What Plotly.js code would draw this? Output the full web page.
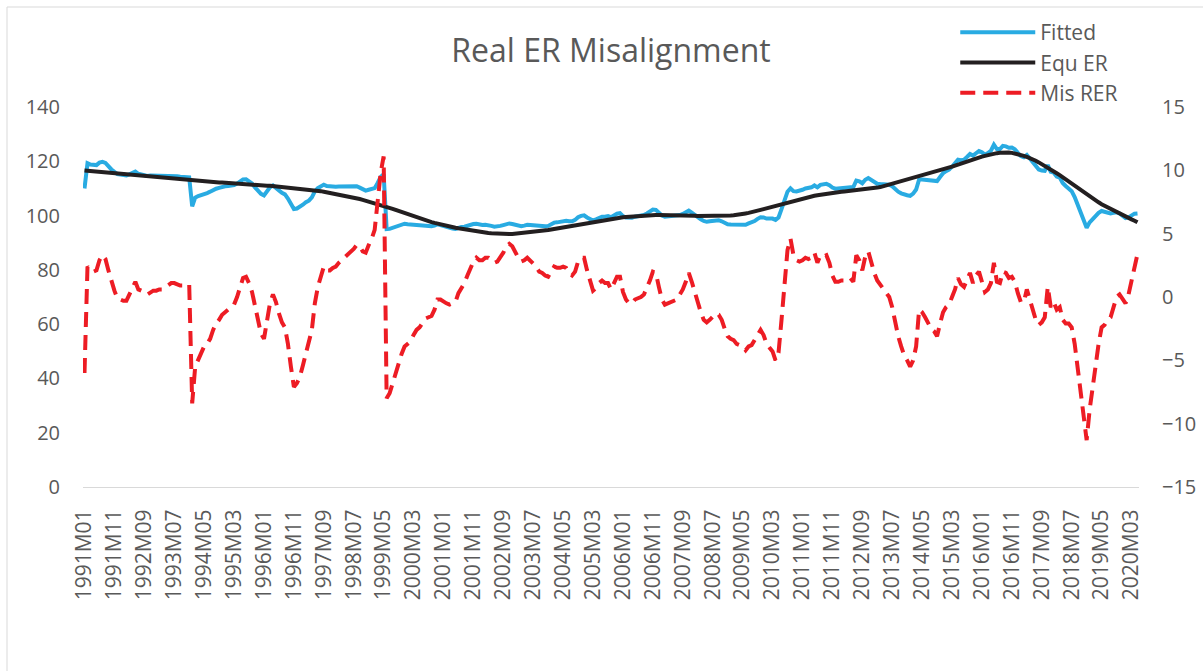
<!DOCTYPE html>
<html>
<head>
<meta charset="utf-8">
<script src="https://cdn.plot.ly/plotly-3.0.1.min.js"></script>
<style>
  html, body { margin: 0; padding: 0; background: #ffffff; }
  #chart { width: 1203px; height: 671px; }
</style>
</head>
<body>
<div id="chart"></div>
<script>
// ---------------- DATA ----------------
const startYear = 1991;          // first month: 1991M01
const monthCount = 353;          // 1991M01 .. 2020M05

const tickLabels = ["1991M01","1991M11","1992M09","1993M07","1994M05","1995M03","1996M01","1996M11",
  "1997M09","1998M07","1999M05","2000M03","2001M01","2001M11","2002M09","2003M07","2004M05","2005M03",
  "2006M01","2006M11","2007M09","2008M07","2009M05","2010M03","2011M01","2011M11","2012M09","2013M07",
  "2014M05","2015M03","2016M01","2016M11","2017M09","2018M07","2019M05","2020M03"];

const fitted = [
110.0,119.3,118.8,118.6,118.6,119.5,119.8,119.4,118.1,117.0,
116.1,115.3,115.1,114.9,114.8,115.2,115.7,116.2,115.4,115.2,
115.0,114.6,114.8,114.8,114.7,114.7,114.6,114.7,114.7,114.8,
114.7,114.5,114.3,114.2,114.2,114.1,103.4,106.6,107.2,107.7,
108.2,108.3,108.8,109.5,109.9,110.2,110.6,110.8,110.9,110.9,
111.2,111.8,112.6,113.3,113.4,112.7,111.8,110.4,109.0,108.0,
107.4,109.0,110.4,111.1,110.4,109.3,108.4,107.8,106.3,104.2,
102.4,102.6,103.1,104.0,104.9,105.5,106.7,108.9,110.1,110.7,
111.4,110.9,110.7,110.7,110.6,110.7,110.7,110.7,110.7,110.9,
110.8,110.8,110.3,109.6,109.2,109.5,109.7,110.1,112.0,114.2,
115.2,95.0,95.1,95.5,96.0,96.5,96.7,97.0,96.8,96.7,
96.8,96.8,96.6,96.6,96.5,96.3,96.1,96.3,96.8,96.5,
96.1,95.7,95.4,95.2,95.1,95.6,95.8,95.9,96.3,96.7,
96.9,97.0,96.7,96.5,96.6,96.5,96.2,95.9,95.9,96.2,
96.5,96.9,97.1,96.9,96.6,96.3,96.1,96.3,96.6,96.5,
96.4,96.3,96.1,96.1,96.1,96.2,96.8,97.4,97.5,97.7,
98.0,98.1,97.9,97.9,98.4,99.4,99.9,100.1,99.3,98.7,
98.2,98.6,99.2,99.6,99.6,99.8,99.4,100.1,100.7,100.9,
99.8,99.3,99.1,99.2,99.6,99.8,100.0,100.2,100.8,101.4,
102.2,102.1,101.0,100.0,99.6,99.7,99.7,99.8,99.9,100.2,
100.6,101.2,101.8,101.1,100.2,99.3,98.6,98.0,97.7,97.9,
98.1,98.4,98.3,97.9,97.3,96.8,96.7,96.7,96.5,96.6,
96.7,96.6,97.1,97.4,98.0,98.8,99.4,99.3,98.9,98.9,
98.9,98.4,99.3,102.4,106.0,108.8,110.0,109.0,108.9,109.1,
109.5,110.0,110.1,110.4,111.1,110.4,111.3,111.4,111.7,111.2,
110.3,109.9,110.0,110.2,110.3,110.4,110.7,110.5,112.9,112.6,
111.9,113.2,113.8,113.0,112.2,111.7,111.6,111.6,111.5,111.4,
110.8,109.6,108.8,108.2,107.7,107.5,107.3,108.1,109.6,113.3,
113.3,113.2,113.0,112.8,112.9,112.7,114.2,115.6,116.4,116.9,
118.0,119.1,120.6,120.4,120.6,121.6,122.7,122.1,123.2,123.8,
123.3,122.5,123.0,123.9,126.1,124.5,124.5,125.7,125.5,125.0,
125.1,124.4,123.1,121.9,121.5,122.3,121.0,119.5,118.0,117.0,
116.6,116.5,118.6,116.1,115.8,114.4,114.0,112.0,110.9,110.1,
109.0,106.8,104.0,101.3,98.3,95.5,97.5,98.8,99.8,101.0,
101.7,101.3,101.1,100.8,101.0,101.2,100.8,100.0,99.1,99.3,
99.9,100.7,100.8];

const equER = [
116.6,116.5,116.4,116.3,116.2,116.1,116.0,115.9,115.7,115.6,
115.5,115.4,115.3,115.2,115.1,115.0,114.9,114.8,114.7,114.6,
114.5,114.4,114.3,114.2,114.1,114.0,113.9,113.8,113.7,113.6,
113.5,113.4,113.3,113.2,113.1,113.0,112.9,112.8,112.8,112.7,
112.6,112.5,112.5,112.4,112.3,112.2,112.2,112.1,112.0,111.9,
111.9,111.8,111.7,111.6,111.6,111.5,111.4,111.3,111.3,111.2,
111.1,111.0,111.0,110.9,110.8,110.7,110.6,110.5,110.4,110.3,
110.2,110.1,110.0,109.9,109.8,109.6,109.5,109.4,109.2,109.0,
108.8,108.6,108.4,108.2,108.0,107.8,107.6,107.4,107.2,107.0,
106.7,106.4,106.1,105.8,105.5,105.2,104.9,104.6,104.3,104.0,
103.7,103.3,102.9,102.5,102.1,101.7,101.3,100.9,100.5,100.2,
99.8,99.4,99.0,98.6,98.2,97.9,97.6,97.3,97.0,96.7,
96.5,96.2,96.0,95.7,95.5,95.3,95.1,94.9,94.7,94.5,
94.3,94.1,94.0,93.8,93.7,93.6,93.5,93.4,93.3,93.3,
93.2,93.2,93.2,93.2,93.3,93.4,93.5,93.6,93.7,93.8,
93.9,94.0,94.2,94.3,94.5,94.7,94.9,95.1,95.3,95.5,
95.7,95.9,96.1,96.3,96.5,96.7,96.9,97.1,97.3,97.5,
97.7,97.9,98.1,98.3,98.5,98.7,98.8,99.0,99.1,99.3,
99.4,99.5,99.6,99.7,99.8,99.9,100.0,100.0,100.1,100.1,
100.2,100.2,100.2,100.2,100.2,100.2,100.1,100.1,100.1,100.0,
100.0,100.0,99.9,99.9,99.9,99.8,99.8,99.8,99.7,99.7,
99.7,99.7,99.7,99.7,99.8,99.9,100.0,100.1,100.2,100.4,
100.6,100.8,101.0,101.2,101.5,101.8,102.1,102.4,102.7,103.0,
103.3,103.6,103.9,104.3,104.6,104.9,105.2,105.5,105.8,106.1,
106.4,106.7,106.9,107.1,107.3,107.5,107.7,107.9,108.1,108.3,
108.5,108.6,108.7,108.8,108.9,109.0,109.1,109.2,109.3,109.4,
109.6,109.7,109.8,110.0,110.1,110.3,110.5,110.8,111.1,111.4,
111.7,112.0,112.3,112.6,112.9,113.2,113.5,113.8,114.1,114.4,
114.7,115.0,115.4,115.7,116.0,116.3,116.7,117.0,117.3,117.6,
118.0,118.4,118.8,119.2,119.6,120.0,120.4,120.8,121.1,121.4,
121.7,122.0,122.3,122.6,122.8,123.0,123.1,123.2,123.2,123.2,
123.1,122.9,122.7,122.4,122.0,121.6,121.2,120.7,120.2,119.6,
119.0,118.4,117.7,117.0,116.3,115.6,114.9,114.1,113.3,112.5,
111.7,110.9,110.1,109.3,108.5,107.7,107.0,106.3,105.6,104.9,
104.2,103.6,103.0,102.4,101.8,101.2,100.6,100.1,99.6,99.1,
98.6,98.1,97.5];

const misRER = [
-6.0,2.4,2.1,2.0,2.1,2.9,3.3,3.0,2.1,1.2,
0.5,-0.1,-0.2,-0.3,-0.3,0.2,0.7,1.2,0.6,0.5,
0.4,0.2,0.4,0.5,0.5,0.6,0.6,0.8,0.9,1.1,
1.1,1.0,0.9,0.9,1.0,1.0,-8.4,-5.5,-5.0,-4.4,
-3.9,-3.7,-3.3,-2.6,-2.1,-1.8,-1.4,-1.2,-1.0,-0.9,
-0.6,0.0,0.8,1.5,1.6,1.1,0.4,-0.8,-2.1,-2.9,
-3.3,-1.8,-0.5,0.2,-0.4,-1.3,-2.0,-2.4,-3.7,-5.5,
-7.1,-6.8,-6.3,-5.4,-4.5,-3.7,-2.6,-0.5,0.8,1.6,
2.4,2.1,2.1,2.3,2.4,2.7,2.9,3.1,3.3,3.6,
3.8,4.1,4.0,3.6,3.5,4.1,4.6,5.3,7.4,9.8,
11.1,-8.0,-7.6,-6.8,-6.0,-5.1,-4.5,-3.9,-3.7,-3.5,
-3.0,-2.6,-2.4,-2.0,-1.7,-1.6,-1.5,-1.0,-0.2,-0.2,
-0.4,-0.5,-0.6,-0.5,-0.4,0.3,0.7,1.1,1.7,2.3,
2.8,3.1,2.9,2.9,3.1,3.1,2.9,2.7,2.8,3.1,
3.5,4.0,4.2,4.0,3.5,3.1,2.8,2.9,3.1,2.9,
2.7,2.4,2.0,1.9,1.7,1.6,2.0,2.4,2.3,2.3,
2.4,2.3,1.9,1.7,2.0,2.8,3.1,3.1,2.1,1.2,
0.5,0.7,1.1,1.3,1.1,1.1,0.6,1.1,1.6,1.6,
0.4,-0.2,-0.5,-0.5,-0.2,-0.1,0.0,0.2,0.7,1.3,
2.0,1.9,0.8,-0.2,-0.6,-0.5,-0.4,-0.3,-0.2,0.2,
0.6,1.2,1.9,1.2,0.3,-0.5,-1.2,-1.8,-2.0,-1.8,
-1.6,-1.3,-1.4,-1.8,-2.5,-3.1,-3.3,-3.4,-3.7,-3.8,
-3.9,-4.2,-3.9,-3.8,-3.4,-2.9,-2.6,-3.0,-3.7,-4.0,
-4.3,-5.0,-4.4,-1.8,1.3,3.7,4.6,3.3,2.9,2.8,
2.9,3.1,3.0,3.1,3.5,2.7,3.3,3.2,3.3,2.7,
1.7,1.2,1.2,1.3,1.3,1.3,1.5,1.2,3.3,2.9,
2.1,3.2,3.6,2.7,1.9,1.3,1.0,0.7,0.4,0.0,
-0.8,-2.1,-3.1,-3.9,-4.6,-5.0,-5.5,-5.0,-3.9,-1.0,
-1.2,-1.6,-2.1,-2.5,-2.7,-3.1,-2.1,-1.2,-0.8,-0.6,
0.0,0.6,1.5,1.0,0.8,1.3,1.9,1.1,1.7,2.0,
1.3,0.4,0.6,1.1,2.7,1.2,1.1,2.0,1.9,1.5,
1.6,1.2,0.3,-0.4,-0.4,0.6,-0.2,-1.0,-1.8,-2.2,
-2.0,-1.6,0.8,-0.8,-0.4,-1.0,-0.8,-1.8,-2.1,-2.1,
-2.4,-3.7,-5.5,-7.3,-9.4,-11.3,-8.9,-7.1,-5.5,-3.7,
-2.4,-2.2,-1.8,-1.6,-0.8,0.0,0.2,-0.1,-0.5,0.2,
1.3,2.6,3.4];

// month category labels (1991M01, 1991M02, ...)
const months = [];
for (let i = 0; i < monthCount; i++) {
  const y = startYear + Math.floor(i / 12);
  const m = (i % 12) + 1;
  months.push(y + 'M' + (m < 10 ? '0' + m : '' + m));
}

// ---------------- CHART ----------------
const FONT = 'Open Sans, Lato, sans-serif';
const GREY = '#595959';

const traces = [
  { x: months, y: fitted, name: 'Fitted', type: 'scatter', mode: 'lines',
    line: { color: '#29abe2', width: 4 }, yaxis: 'y' },
  { x: months, y: equER, name: 'Equ ER', type: 'scatter', mode: 'lines',
    line: { color: '#231f20', width: 4 }, yaxis: 'y' },
  { x: months, y: misRER, name: 'Mis RER', type: 'scatter', mode: 'lines',
    line: { color: '#ed1c24', width: 4, dash: '15px,8px' }, yaxis: 'y2' }
];

const layout = {
  width: 1203, height: 671,
  margin: { l: 83, r: 64, t: 107, b: 184, pad: 0 },
  paper_bgcolor: '#ffffff', plot_bgcolor: '#ffffff',
  font: { family: FONT, color: GREY, size: 20 },
  title: { text: 'Real ER Misalignment', font: { family: FONT, size: 32, color: GREY },
           x: 0.5, xref: 'paper', xanchor: 'center', y: 0.925, yref: 'container', yanchor: 'middle' },
  showlegend: true,
  legend: { x: 0.826, xanchor: 'left', y: 1.25, yanchor: 'top', bgcolor: 'rgba(0,0,0,0)',
            font: { family: FONT, size: 21, color: GREY }, itemwidth: 75, tracegroupgap: 0 },
  xaxis: {
    type: 'category', range: [-0.5, monthCount - 0.5],
    tickmode: 'array', tickvals: tickLabels, ticktext: tickLabels,
    tickangle: -90, tickfont: { family: FONT, size: 21, color: GREY },
    showgrid: false, zeroline: false, showline: true, linecolor: '#d9d9d9', linewidth: 1,
    ticks: '', ticklabelstandoff: 13, fixedrange: true
  },
  yaxis: {
    range: [0, 140], dtick: 20, tick0: 0, showgrid: false, zeroline: false, showline: false,
    tickfont: { family: FONT, size: 20, color: GREY }, ticks: '', ticklabelstandoff: 22
  },
  yaxis2: {
    overlaying: 'y', side: 'right', range: [-15, 15], dtick: 5, tick0: -15,
    showgrid: false, zeroline: false, showline: false,
    tickfont: { family: FONT, size: 20, color: GREY }, ticks: '', ticklabelstandoff: 22
  },
  shapes: [
    { type: 'rect', xref: 'paper', yref: 'paper',
      x0: (7 - 83) / 1056, x1: (1215 - 83) / 1056, y0: (487 - 690) / 380, y1: (487 - 7) / 380,
      line: { color: '#d9d9d9', width: 1 }, fillcolor: 'rgba(0,0,0,0)', layer: 'below' }
  ]
};

Plotly.newPlot('chart', traces, layout, { displayModeBar: false, responsive: false });
</script>
</body>
</html>
